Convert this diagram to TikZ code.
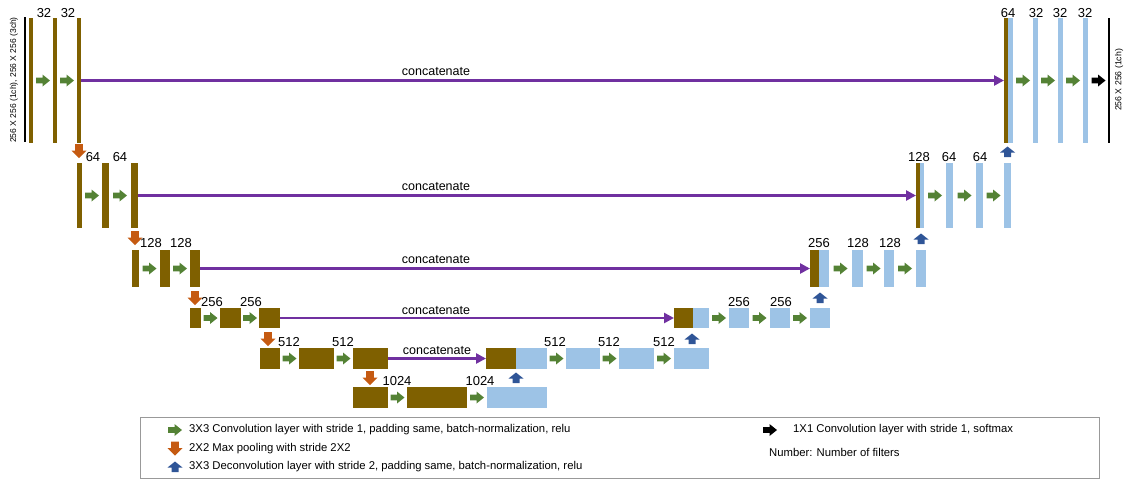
\documentclass[tikz,border=0pt]{standalone}
\usepackage{fontspec}
\setmainfont{Liberation Sans}
\usetikzlibrary{calc,arrows.meta}
\definecolor{brn}{HTML}{7F6000}
\definecolor{lblue}{HTML}{9DC3E6}
\definecolor{grn}{HTML}{548235}
\definecolor{org}{HTML}{C55A11}
\definecolor{dblue}{HTML}{2F5597}
\definecolor{purp}{HTML}{7030A0}
\newcommand\layer[6]{\node[#1, minimum width={(#4-#3)*1pt}, minimum height={(#6-#5)*1pt}, anchor=north west] (#2) at (#3,#5) {};}
\begin{document}
\begin{tikzpicture}[x=1pt,y=-1pt,
  brownbar/.style={fill=brn, draw=none, inner sep=0pt, outer sep=0pt},
  bluebar/.style={fill=lblue, draw=none, inner sep=0pt, outer sep=0pt},
  lbl/.style={font=\fontsize{13}{14}\selectfont, inner sep=0pt},
  cat/.style={font=\fontsize{12.5}{14}\selectfont, inner sep=0pt, anchor=base},
  concat/.style={draw=purp, line width=2.5pt, -{Triangle[length=10pt,width=10pt]}},
  legtxt/.style={font=\fontsize{11.3}{13}\selectfont, inner sep=0pt, anchor=west},
  pics/rarr/.style={code={\fill[#1] (-7,-2.8) -- (-0.5,-2.8) -- (-0.5,-6) -- (7,0) -- (-0.5,6) -- (-0.5,2.8) -- (-7,2.8) -- cycle;}},
  pics/darr/.style={code={\fill[org] (-3.8,-7) -- (-3.8,-0.5) -- (-7.5,-0.5) -- (0,7) -- (7.5,-0.5) -- (3.8,-0.5) -- (3.8,-7) -- cycle;}},
  pics/uarr/.style={code={\fill[dblue] (-3.5,5) -- (-3.5,0.5) -- (-7.5,0.5) -- (0,-5.5) -- (7.5,0.5) -- (3.5,0.5) -- (3.5,5) -- cycle;}}
]
\useasboundingbox (0,0) rectangle (1124,480);

% ---------- level 1
\layer{brownbar}{e1a}{29}{33}{18}{143}
\layer{brownbar}{e1b}{53}{57}{18}{143}
\layer{brownbar}{e1c}{77}{81}{18}{143}
\layer{brownbar}{d1a}{1004}{1008}{18}{143}
\layer{bluebar}{d1b}{1008}{1013}{18}{143}
\layer{bluebar}{d1c}{1033}{1038}{18}{143}
\layer{bluebar}{d1d}{1058}{1063}{18}{143}
\layer{bluebar}{d1e}{1083}{1088}{18}{143}
\coordinate (inT) at (25,17); \coordinate (inB) at (25,142);
\draw[line width=1.2pt] (inT) -- (inB);
\coordinate (outT) at (1109,18); \coordinate (outB) at (1109,143);
\draw[line width=1.2pt] (outT) -- (outB);
\node[rotate=90, font=\fontsize{8.5}{9}\selectfont, inner sep=0pt] (intxt) at (14,80) {256 X 256 (1ch), 256 X 256 (3ch)};
\node[rotate=90, font=\fontsize{8.7}{9}\selectfont, inner sep=0pt] (outtxt) at (1119,80) {256 X 256 (1ch)};
\pic at ($(e1a.east)!0.5!(e1b.west)$) {rarr=grn};
\pic at ($(e1b.east)!0.5!(e1c.west)$) {rarr=grn};
\pic at ($(d1b.east)!0.5!(d1c.west)$) {rarr=grn};
\pic at ($(d1c.east)!0.5!(d1d.west)$) {rarr=grn};
\pic at ($(d1d.east)!0.5!(d1e.west)$) {rarr=grn};
\pic at ($(d1e.east)!0.5!(outT|-d1e.east)$) {rarr=black};
\draw[concat] (e1c.east) -- (d1a.west);
\node[cat] (c1) at (436,75) {concatenate};
\node[lbl] (n1a) at (44,13) {32};
\node[lbl] (n1b) at (68,13) {32};
\node[lbl] (n1c) at (1008,13) {64};
\node[lbl] (n1d) at (1036,13) {32};
\node[lbl] (n1e) at (1060,13) {32};
\node[lbl] (n1f) at (1085,13) {32};

% ---------- level 2
\layer{brownbar}{e2a}{77}{82}{163}{228}
\layer{brownbar}{e2b}{102}{109}{163}{228}
\layer{brownbar}{e2c}{131}{138}{163}{228}
\layer{brownbar}{d2a}{916}{920}{163}{228}
\layer{bluebar}{d2b}{920}{924}{163}{228}
\layer{bluebar}{d2c}{946}{953}{163}{228}
\layer{bluebar}{d2d}{976}{983}{163}{228}
\layer{bluebar}{d2e}{1004}{1011}{163}{228}
\pic at ($(e2a.east)!0.5!(e2b.west)$) {rarr=grn};
\pic at ($(e2b.east)!0.5!(e2c.west)$) {rarr=grn};
\pic at ($(d2b.east)!0.5!(d2c.west)$) {rarr=grn};
\pic at ($(d2c.east)!0.5!(d2d.west)$) {rarr=grn};
\pic at ($(d2d.east)!0.5!(d2e.west)$) {rarr=grn};
\draw[concat] (e2c.east) -- (d2a.west);
\node[cat] (c2) at (436,190) {concatenate};
\node[lbl] (n2a) at (93,157) {64};
\node[lbl] (n2b) at (120,157) {64};
\node[lbl] (n2c) at (919,157) {128};
\node[lbl] (n2d) at (949,157) {64};
\node[lbl] (n2e) at (980,157) {64};
\pic at (79,151) {darr};
\pic at (1007.5,152) {uarr};

% ---------- level 3
\layer{brownbar}{e3a}{132}{139}{250}{287}
\layer{brownbar}{e3b}{160}{170}{250}{287}
\layer{brownbar}{e3c}{190}{200}{250}{287}
\layer{brownbar}{d3a}{810}{819}{250}{287}
\layer{bluebar}{d3b}{819}{829}{250}{287}
\layer{bluebar}{d3c}{852}{863}{250}{287}
\layer{bluebar}{d3d}{884}{894}{250}{287}
\layer{bluebar}{d3e}{916}{926}{250}{287}
\pic at ($(e3a.east)!0.5!(e3b.west)$) {rarr=grn};
\pic at ($(e3b.east)!0.5!(e3c.west)$) {rarr=grn};
\pic at ($(d3b.east)!0.5!(d3c.west)$) {rarr=grn};
\pic at ($(d3c.east)!0.5!(d3d.west)$) {rarr=grn};
\pic at ($(d3d.east)!0.5!(d3e.west)$) {rarr=grn};
\draw[concat] (e3c.east) -- (d3a.west);
\node[cat] (c3) at (436,263) {concatenate};
\node[lbl] (n3a) at (151,243) {128};
\node[lbl] (n3b) at (181,243) {128};
\node[lbl] (n3c) at (819,243) {256};
\node[lbl] (n3d) at (858,243) {128};
\node[lbl] (n3e) at (890,243) {128};
\pic at (135,238) {darr};
\pic at (921,239) {uarr};

% ---------- level 4
\layer{brownbar}{e4a}{190}{201}{308}{328}
\layer{brownbar}{e4b}{220}{241}{308}{328}
\layer{brownbar}{e4c}{259}{280}{308}{328}
\layer{brownbar}{d4a}{674}{693}{308}{328}
\layer{bluebar}{d4b}{693}{709}{308}{328}
\layer{bluebar}{d4c}{729}{749}{308}{328}
\layer{bluebar}{d4d}{770}{790}{308}{328}
\layer{bluebar}{d4e}{810}{830}{308}{328}
\pic at ($(e4a.east)!0.5!(e4b.west)$) {rarr=grn};
\pic at ($(e4b.east)!0.5!(e4c.west)$) {rarr=grn};
\pic at ($(d4b.east)!0.5!(d4c.west)$) {rarr=grn};
\pic at ($(d4c.east)!0.5!(d4d.west)$) {rarr=grn};
\pic at ($(d4d.east)!0.5!(d4e.west)$) {rarr=grn};
\draw[concat] (e4c.east) -- (d4a.west);
\node[cat] (c4) at (436,314) {concatenate};
\node[lbl] (n4a) at (212,302) {256};
\node[lbl] (n4b) at (251,302) {256};
\node[lbl] (n4c) at (739,302) {256};
\node[lbl] (n4d) at (781,302) {256};
\pic at (195,298) {darr};
\pic at (820,298) {uarr};

% ---------- level 5
\layer{brownbar}{e5a}{260}{280}{348}{369}
\layer{brownbar}{e5b}{299}{334}{348}{369}
\layer{brownbar}{e5c}{353}{388}{348}{369}
\layer{brownbar}{d5a}{486}{516}{348}{369}
\layer{bluebar}{d5b}{516}{547}{348}{369}
\layer{bluebar}{d5c}{566}{600}{348}{369}
\layer{bluebar}{d5d}{619}{654}{348}{369}
\layer{bluebar}{d5e}{674}{709}{348}{369}
\pic at ($(e5a.east)!0.5!(e5b.west)$) {rarr=grn};
\pic at ($(e5b.east)!0.5!(e5c.west)$) {rarr=grn};
\pic at ($(d5b.east)!0.5!(d5c.west)$) {rarr=grn};
\pic at ($(d5c.east)!0.5!(d5d.west)$) {rarr=grn};
\pic at ($(d5d.east)!0.5!(d5e.west)$) {rarr=grn};
\draw[concat] (e5c.east) -- (d5a.west);
\node[cat] (c5) at (437,354) {concatenate};
\node[lbl] (n5a) at (289,342) {512};
\node[lbl] (n5b) at (343,342) {512};
\node[lbl] (n5c) at (555,342) {512};
\node[lbl] (n5d) at (609,342) {512};
\node[lbl] (n5e) at (664,342) {512};
\pic at (268,339) {darr};
\pic at (692,339) {uarr};

% ---------- level 6
\layer{brownbar}{b6a}{353}{388}{387}{408}
\layer{brownbar}{b6b}{407}{467}{387}{408}
\layer{bluebar}{b6c}{487}{547}{387}{408}
\pic at ($(b6a.east)!0.5!(b6b.west)$) {rarr=grn};
\pic at ($(b6b.east)!0.5!(b6c.west)$) {rarr=grn};
\node[lbl] (n6a) at (397,381) {1024};
\node[lbl] (n6b) at (480,381) {1024};
\pic at (370,378) {darr};
\pic at (516,378) {uarr};

% ---------- legend
\node[draw=black!40, line width=1pt, inner sep=0pt, minimum width=959pt, minimum height=61pt, anchor=north west] (legend) at (140,417) {};
\pic at (175,430) {rarr=grn};
\pic at (175,448.5) {darr};
\pic at (175,467) {uarr};
\pic at (770,430) {rarr=black};
\node[legtxt] (lg1) at (189,430) {3X3 Convolution layer with stride 1, padding same, batch-normalization, relu};
\node[legtxt] (lg2) at (189,448.5) {2X2 Max pooling with stride 2X2};
\node[legtxt] (lg3) at (189,467) {3X3 Deconvolution layer with stride 2, padding same, batch-normalization, relu};
\node[legtxt] (lg4) at (793,430) {1X1 Convolution layer with stride 1, softmax};
\node[legtxt] (lg5) at (769,452) {Number: Number of filters};
\end{tikzpicture}
\end{document}
